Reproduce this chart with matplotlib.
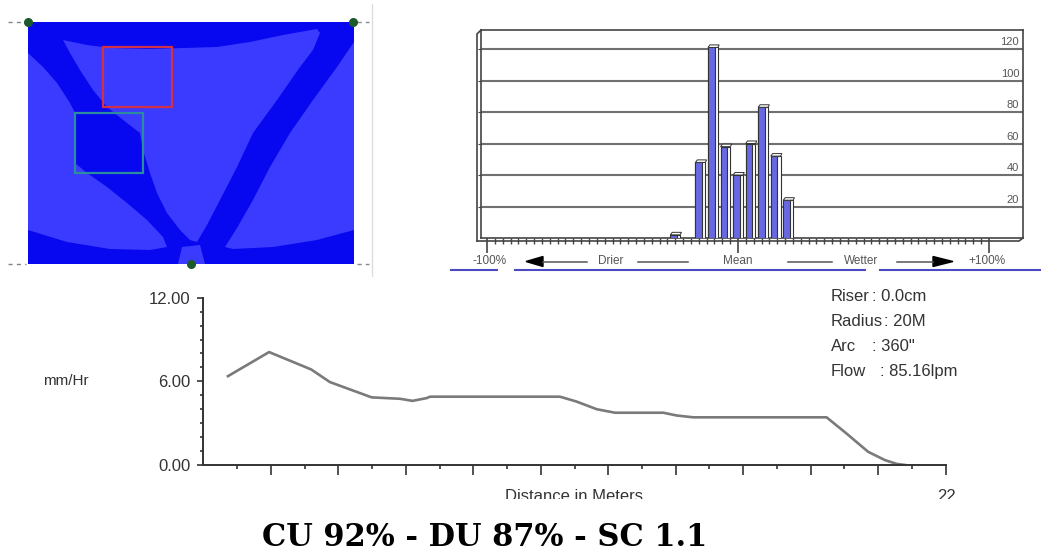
import numpy as np
import matplotlib
matplotlib.use("Agg")
import matplotlib.pyplot as plt
from matplotlib.patches import Polygon, Rectangle

# ---------------- data ----------------
# coverage map (pixel-space outlines of the lighter-blue zones)
map_central = [(63, 40), (87, 45), (110, 48), (150, 49), (183, 48), (217, 47), (250, 42),
               (283, 35), (317, 29), (320, 33), (313, 50), (300, 67), (277, 100),
               (253, 133), (237, 167), (220, 200), (207, 225), (197, 242), (190, 240),
               (180, 230), (167, 213), (157, 193), (150, 173), (143, 150), (140, 133),
               (127, 123), (107, 107), (93, 90), (80, 70), (70, 53)]
map_left = [(28, 53), (43, 67), (57, 83), (70, 103), (75, 113), (75, 163), (87, 173),
            (107, 187), (127, 203), (147, 220), (163, 237), (167, 247), (150, 250),
            (110, 249), (67, 242), (28, 230)]
map_right = [(354, 42), (337, 67), (313, 100), (290, 133), (270, 167), (253, 200),
             (237, 228), (225, 247), (233, 249), (273, 247), (317, 240), (354, 230)]
map_bottom = [(178, 264), (182, 247), (200, 245), (205, 264)]
sprinklers = [(28, 22), (353, 22), (191, 264)]
red_box = (103, 47, 69, 60)
teal_box = (75, 113, 68, 60)

# distribution histogram
hist_bins = [-25, -15, -10, -5, 0, 5, 10, 15, 20]
hist_counts = [2, 48, 121, 58, 40, 60, 83, 52, 24]
hist_yticks = [20, 40, 60, 80, 100, 120]
axis_words = ["-100%", "Drier", "Mean", "Wetter", "+100%"]

# application-rate profile
dist_m = [0.73, 1.95, 3.2, 3.75, 4.99, 5.83, 6.2, 6.62, 6.72, 10.57, 11.06, 11.66, 12.2,
          13.63, 14.03, 14.52, 18.47, 19.04, 19.7, 20.2, 20.55, 20.8]
rate_mmhr = [6.37, 8.1, 6.85, 5.95, 4.85, 4.75, 4.6, 4.8, 4.9, 4.9, 4.55, 4.0, 3.75,
             3.75, 3.55, 3.42, 3.42, 2.3, 0.95, 0.35, 0.08, 0.0]
y_labels = ["0.00", "6.00", "12.00"]
info_labels = ["Riser", "Radius", "Arc", "Flow"]
info_values = [": 0.0cm", ": 20M", ": 360\"", ": 85.16lpm"]
title = "CU 92% - DU 87% - SC 1.1"

# ---------------- figure ----------------
W, H = 1041, 552
fig = plt.figure(figsize=(W / 100, H / 100), dpi=100)
fig.patch.set_facecolor("white")
plt.rcParams["font.family"] = ["Liberation Sans", "DejaVu Sans"]


def px_axes(l, t, r, b, **kw):
    return fig.add_axes([l / W, 1 - b / H, (r - l) / W, (b - t) / H], **kw)


DARK = "#0707f0"
LIGHT = "#3b3bff"
TXT = "#333333"

# ---- coverage map ----
mx = px_axes(28, 22, 354, 264)
mx.set_xlim(28, 354)
mx.set_ylim(264, 22)
mx.axis("off")
mx.add_patch(Rectangle((28, 22), 326, 242, facecolor=DARK, edgecolor="none"))
for poly in (map_central, map_left, map_right, map_bottom):
    mx.add_patch(Polygon(poly, closed=True, facecolor=LIGHT, edgecolor="none"))
mx.add_patch(Rectangle(red_box[:2], red_box[2], red_box[3], fill=False,
                       edgecolor="#d0304a", lw=1.6))
mx.add_patch(Rectangle(teal_box[:2], teal_box[2], teal_box[3], fill=False,
                       edgecolor="#2a8c9c", lw=1.6))

# ---- histogram ----
PX_PER_PCT = 2.51
hx = px_axes(481, 30, 1023, 238)
hx.set_xlim(-100 - 6 / PX_PER_PCT, 100 + 34 / PX_PER_PCT)
hx.set_ylim(0, 208 / 1.575)
hx.set_yticks(hist_yticks)
hx.yaxis.grid(True, color="#707070", lw=1.5)
hx.set_axisbelow(True)
hx.tick_params(axis="y", which="major", direction="out", length=2.5, color="#444",
               labelleft=False)
hx.set_xticks([-100, 0, 100])
hx.set_xticks(np.linspace(-100, 100, 65), minor=True)
hx.tick_params(axis="x", which="major", direction="out", length=11, width=1.2,
               color="#444", labelbottom=False, pad=0)
hx.tick_params(axis="x", which="minor", direction="out", length=4.5, width=1.0,
               color="#444")
for s in hx.spines.values():
    s.set_color("#444")
    s.set_linewidth(1.2)
bins = np.array(hist_bins, dtype=float)
hx.bar(bins, hist_counts, width=3.9, color="white", edgecolor="#333", lw=0.8, zorder=3)
hx.bar(bins - 0.65, hist_counts, width=2.6, color="#6868e4", edgecolor="#333", lw=0.8,
       zorder=4)
for c, v in zip(bins, hist_counts):
    hx.add_patch(Polygon([(c - 1.95, v), (c - 1.2, v + 1.6), (c + 2.5, v + 1.6), (c + 1.95, v)],
                         closed=True, facecolor="white", edgecolor="#333", lw=0.7,
                         zorder=5))
for t in hist_yticks:
    hx.text(0.993, t + 4.2, str(t), transform=hx.get_yaxis_transform(), ha="right",
            va="center", fontsize=8, color="#555")

# ---- rate profile ----
lx = px_axes(203.3, 297.7, 945.7, 465)
lx.set_xlim(0, 22)
lx.set_ylim(0, 12)
lx.spines["top"].set_visible(False)
lx.spines["right"].set_visible(False)
for s in ("left", "bottom"):
    lx.spines[s].set_color(TXT)
    lx.spines[s].set_linewidth(1.4)
lx.set_xticks(np.arange(2, 23, 2))
lx.set_xticks(np.arange(1, 22, 2), minor=True)
lx.tick_params(axis="x", which="major", direction="out", length=7, width=1.2,
               color=TXT, labelbottom=False)
lx.tick_params(axis="x", which="minor", direction="out", length=3, width=1.2, color=TXT)
lx.set_yticks([0, 6, 12])
lx.set_yticklabels(y_labels)
lx.set_yticks(np.arange(1, 12, 1), minor=True)
lx.tick_params(axis="y", which="major", direction="out", length=4, width=1.2,
               color=TXT, labelsize=12, labelcolor=TXT, pad=5)
lx.tick_params(axis="y", which="minor", direction="out", length=2.5, width=1.2,
               color=TXT)
lx.patch.set_alpha(0)
lx.plot(dist_m, rate_mmhr, color="#7a7a7a", lw=1.9, solid_joinstyle="round")

# ---- overlay (pixel coordinates) ----
ov = px_axes(0, 0, W, H)
ov.set_xlim(0, W)
ov.set_ylim(H, 0)
ov.axis("off")
ov.patch.set_alpha(0)

# map furniture
ov.plot([372, 372], [4, 276], color="#dddddd", lw=1)
for yy in (22, 264):
    ov.plot([8, 26], [yy, yy], color="#888", lw=1, ls=(0, (3, 3)))
    ov.plot([357, 369], [yy, yy], color="#888", lw=1, ls=(0, (3, 3)))
ov.plot([p[0] for p in sprinklers], [p[1] for p in sprinklers], ls="none", marker="o",
        ms=5.5, color="#1c5a2c")

# histogram 3-D wall / floor
ov.plot([477, 477, 481], [241, 34, 30], color="#444", lw=1.2)
ov.plot([477, 1019, 1023], [241, 241, 238], color="#444", lw=1.2)

# histogram axis words + arrows
word_x = [490, 611, 738, 861, 987]
for wx, wd in zip(word_x, axis_words):
    ov.text(wx, 261, wd, ha="center", va="center", fontsize=8.5, color="#555")
for x0, x1 in ((543, 587), (638, 688), (788, 832), (897, 933)):
    ov.plot([x0, x1], [261.5, 261.5], color="#555", lw=1.1)
ov.add_patch(Polygon([(526, 261.5), (543, 256.5), (543, 266.5)], closed=True, color="black"))
ov.add_patch(Polygon([(953, 261.5), (933, 256.5), (933, 266.5)], closed=True, color="black"))
for x0, x1 in ((451, 497), (515, 865), (880, 1041)):
    ov.plot([x0, x1], [270, 270], color="#4a4ac4", lw=1.5)

# profile texts
ov.text(43, 381, "mm/Hr", ha="left", va="center", fontsize=11, color=TXT)
colon_x = [872, 884, 872, 880]
for i, (lab, val) in enumerate(zip(info_labels, info_values)):
    yy = 296.7 + 25 * i
    ov.text(831, yy, lab, ha="left", va="center", fontsize=12, color=TXT)
    ov.text(colon_x[i], yy, val, ha="left", va="center", fontsize=12, color=TXT)

# clipped bottom labels (the source cuts them off half-way)
cx = px_axes(150, 468, 1041, 498.5)
cx.set_xlim(150, 1041)
cx.set_ylim(498.5, 468)
cx.axis("off")
cx.patch.set_alpha(0)
cx.text(574, 489, "Distance in Meters", ha="center", va="top", fontsize=12,
        color=TXT, clip_on=True)
cx.text(946, 489, "22", ha="center", va="top", fontsize=12, color=TXT, clip_on=True)

# title
ov.text(485, 546, title, ha="center", va="baseline", fontsize=22, fontweight="bold",
        family="DejaVu Serif", color="black")

fig.savefig("out.png", dpi=100, facecolor="white")
